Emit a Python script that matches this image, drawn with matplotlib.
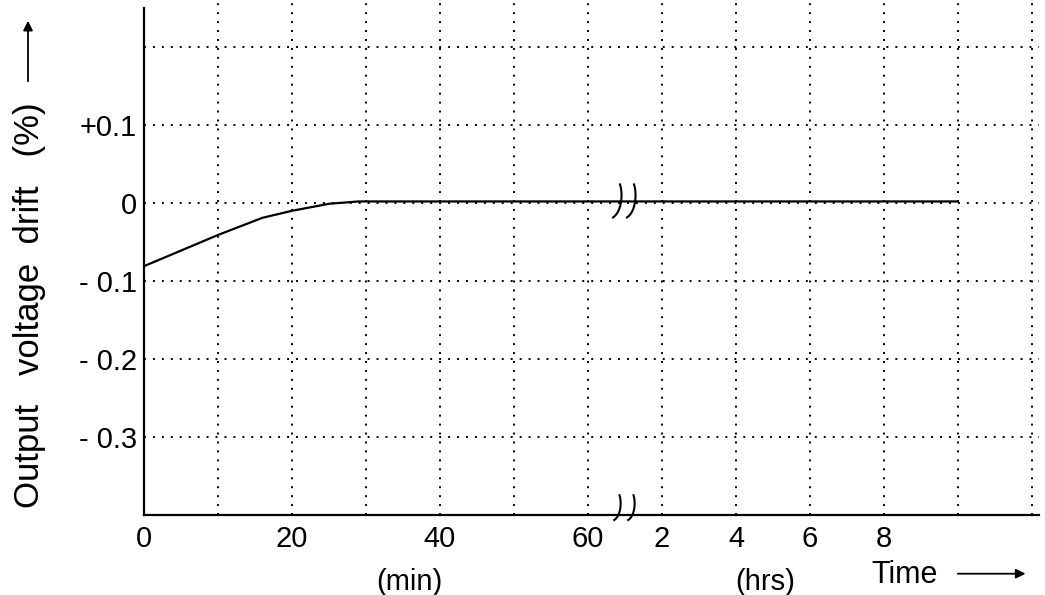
import numpy as np
import matplotlib
matplotlib.use("Agg")
import matplotlib.pyplot as plt
import matplotlib.transforms as mtransforms

plt.rcParams['font.family'] = ['Liberation Sans', 'DejaVu Sans']

# ---------------- data ----------------
minutes = [0, 10, 16, 20, 25, 29, 60]
drift_min = [-0.081, -0.041, -0.019, -0.010, -0.001, 0.002, 0.002]
hours = [1, 10]
drift_hr = [0.002, 0.002]

min_ticks = [0, 20, 40, 60]
hr_ticks = [2, 4, 6, 8]
y_ticks = [0.1, 0.0, -0.1, -0.2, -0.3]
y_ticklabels = ['+0.1', '0', '- 0.1', '- 0.2', '- 0.3']
y_grid = [0.2, 0.1, 0.0, -0.1, -0.2, -0.3]


def pos_min(t):
    return np.asarray(t, dtype=float) / 10.0


def pos_hr(h):
    return 6.0 + np.asarray(h, dtype=float) / 2.0


W, H = 1045, 595
fig = plt.figure(figsize=(W / 100, H / 100), dpi=100)
ax = fig.add_axes([144 / W, 80 / H, (W - 144) / W, 515 / H])
ax.set_xlim(0, (W - 144) / 74)
ax.set_ylim(-0.4, -0.4 + 0.1 * 515 / 78)

# grid (dotted)
grid_kw = dict(color='black', lw=1.4, linestyle=(0, (1, 3.6)), zorder=1)
for gx in range(1, 13):
    ax.plot([gx, gx], [-0.4, 0.27], **grid_kw)
for gy in y_grid:
    ax.plot([0, 12.1], [gy, gy], **grid_kw)

# spines
for s in ['top', 'right']:
    ax.spines[s].set_visible(False)
ax.spines['left'].set_bounds(-0.4, 0.25)
ax.spines['bottom'].set_bounds(0, 12.1)
ax.spines['left'].set_linewidth(1.6)
ax.spines['bottom'].set_linewidth(1.6)

# curve
xs = np.concatenate([pos_min(minutes), pos_hr(hours)])
ys = np.concatenate([drift_min, drift_hr])
ax.plot(xs, ys, color='black', lw=1.6, zorder=3)

# ticks
xt = list(pos_min(min_ticks)) + list(pos_hr(hr_ticks))
xl = [str(v) for v in min_ticks] + [str(v) for v in hr_ticks]
ax.set_xticks(xt)
ax.set_xticklabels(xl)
ax.set_yticks(y_ticks)
ax.set_yticklabels(y_ticklabels)
ax.tick_params(axis='both', length=0, labelsize=21)
ax.tick_params(axis='x', pad=7)
ax.tick_params(axis='y', pad=5)


# break marks
def bezier(p0, p1, p2, p3, n=40):
    t = np.linspace(0, 1, n)[:, None]
    return ((1 - t) ** 3) * p0 + 3 * ((1 - t) ** 2) * t * p1 + 3 * (1 - t) * t ** 2 * p2 + t ** 3 * p3


def break_mark(xd, yd, dy_px, scale):
    tr = fig.dpi_scale_trans + mtransforms.ScaledTranslation(xd, yd, ax.transData)
    for dx in (-7, 7):
        pts = bezier(np.array([-5, -16.0]), np.array([4, -10.0]),
                     np.array([5, 8.0]), np.array([2, 17.0])) * scale
        pts[:, 0] += dx
        pts[:, 1] += dy_px
        ax.plot(pts[:, 0] / 100, pts[:, 1] / 100, color='black', lw=1.5,
                transform=tr, clip_on=False, zorder=4)


break_mark(6.5, 0.002, 0, 1.0)
break_mark(6.5, -0.4, 7, 0.75)

# axis texts
bt = mtransforms.blended_transform_factory(ax.transData, ax.transAxes)
ax.text(3.59, -0.13, '(min)', transform=bt, ha='center', va='center', fontsize=21)
ax.text(8.39, -0.13, '(hrs)', transform=bt, ha='center', va='center', fontsize=21)
ax.text(10.28, -0.117, 'Time', transform=bt, ha='center', va='center', fontsize=22)
ax.annotate('', xy=(11.95, -0.114), xytext=(10.96, -0.114), xycoords=bt, textcoords=bt,
            arrowprops=dict(arrowstyle='-|>', color='black', lw=1.3,
                            mutation_scale=14), annotation_clip=False)

fig.text(30 / W, 1 - 305 / H, 'Output   voltage  drift   (%)', rotation=90,
         ha='center', va='center', fontsize=25)
fig.patches.append(matplotlib.patches.FancyArrowPatch(
    (28 / W, 1 - 84 / H), (28 / W, 1 - 18 / H), transform=fig.transFigure,
    arrowstyle='-|>', mutation_scale=14, color='black', lw=1.3))

fig.savefig('out.png', dpi=100, facecolor='white')
